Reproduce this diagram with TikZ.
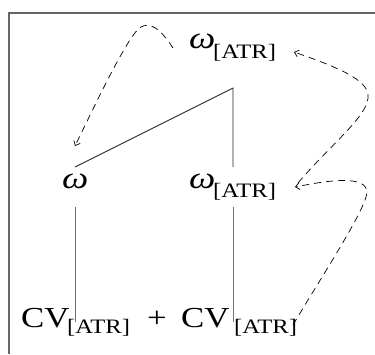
\documentclass[tikz,border=0pt]{standalone}
\usepackage{fontspec}
\setmainfont[FakeStretch=1.2]{Liberation Serif}
\usetikzlibrary{arrows.meta}
\begin{document}
\begin{tikzpicture}[x=1pt,y=-1pt,
  lbl/.style={inner sep=0pt, anchor=base west, font=\fontsize{29}{31}\selectfont},
  om/.style={inner sep=0pt, anchor=base west, font=\fontsize{31}{33}\selectfont\itshape},
  sub/.style={inner sep=0pt, anchor=base west, font=\fontsize{20.5}{22}\selectfont},
  tree/.style={line width=0.9pt, black!85},
  stem/.style={line width=0.9pt, black!55},
  arr/.style={dash pattern=on 7pt off 5pt, line width=0.7pt, -{Straight Barb[length=4pt,width=7pt]}},
  frame/.style={line width=1.8pt, black!60}]
\useasboundingbox (0,0) rectangle (375,354);
\draw[frame] (9,354) -- (9,13) -- (375,13);
% labels
\node[om] (wT) at (189,48) {ω};
\node[sub] (aT) at (213,58) {[ATR]};
\node[om] (wM) at (189,188) {ω};
\node[sub] (aM) at (213,197) {[ATR]};
\node[om] (wL) at (62,188) {ω};
\node[lbl] (cv1) at (21,327) {CV};
\node[sub] (a1) at (67,333) {[ATR]};
\node[lbl] (plus) at (147,327) {+};
\node[lbl] (cv2) at (181,327) {CV};
\node[sub] (a2) at (234,333) {[ATR]};
% tree
\coordinate (apex) at (233,88);
\coordinate (lT) at (75,167);
\coordinate (rT) at (233,167);
\coordinate (lS) at (75,207);
\coordinate (lB) at (75,322);
\coordinate (rS) at (233,207);
\coordinate (rB) at (233,322);
\draw[tree] (lT) -- (apex) -- (rT);
\draw[stem] (lS) -- (lB);
\draw[stem] (rS) -- (rB);
% dashed arrows
\coordinate (s1) at (173,48);
\coordinate (e1) at (75,146);
\coordinate (s2) at (293,325);
\coordinate (e2) at (295,187);
\coordinate (s3) at (298,183);
\coordinate (e3) at (294,52);
\draw[arr] (s1) .. controls (160,28) and (150,22) .. (141,27) .. controls (129,33) and (95,105) .. (e1);
\draw[arr] (s2) .. controls (318,282) and (366,210) .. (367,192) .. controls (366,175) and (330,180) .. (e2);
\draw[arr] (s3) .. controls (330,145) and (370,115) .. (368,95) .. controls (367,80) and (340,68) .. (e3);
\end{tikzpicture}
\end{document}
